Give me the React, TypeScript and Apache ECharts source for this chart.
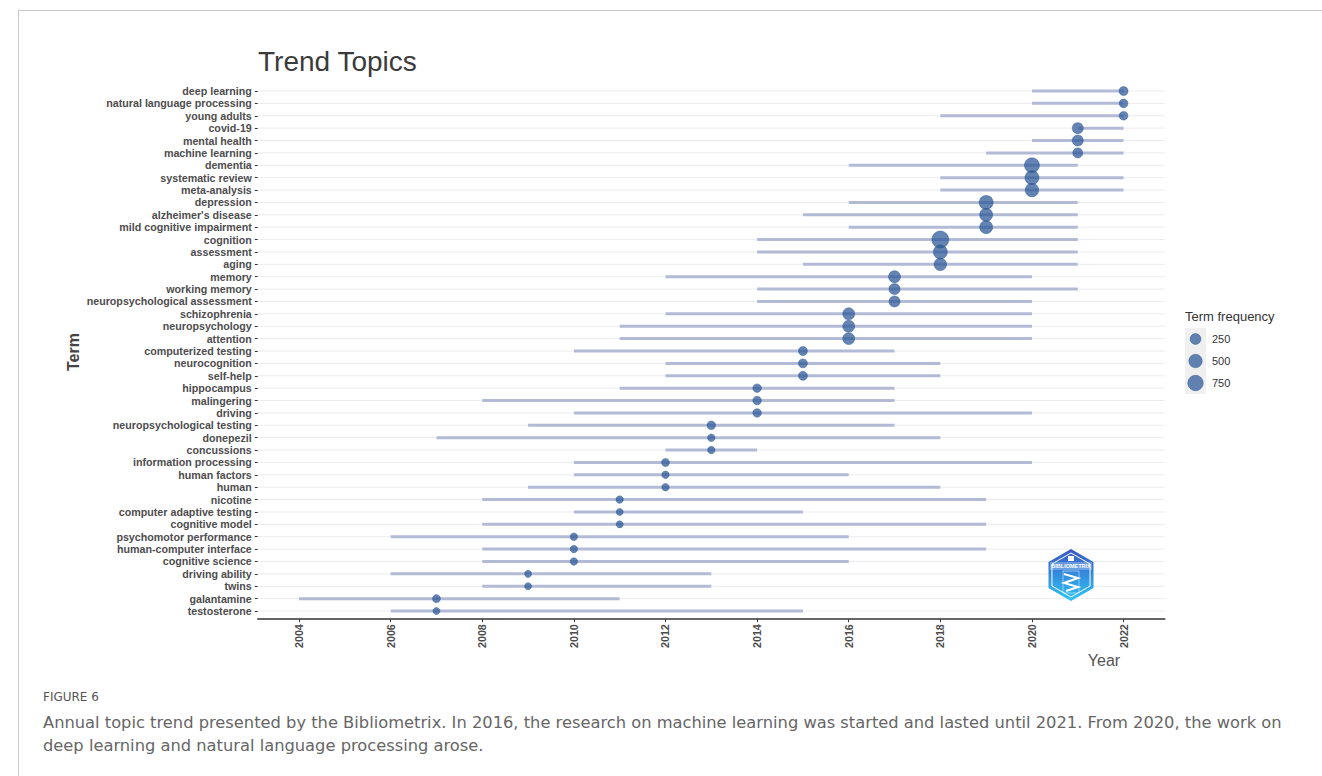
import React, { useEffect, useRef } from "react";
import * as echarts from "echarts";

const terms = [
  "deep learning", "natural language processing", "young adults", "covid-19", "mental health",
  "machine learning", "dementia", "systematic review", "meta-analysis", "depression",
  "alzheimer's disease", "mild cognitive impairment", "cognition", "assessment", "aging",
  "memory", "working memory", "neuropsychological assessment", "schizophrenia", "neuropsychology",
  "attention", "computerized testing", "neurocognition", "self-help", "hippocampus",
  "malingering", "driving", "neuropsychological testing", "donepezil", "concussions",
  "information processing", "human factors", "human", "nicotine", "computer adaptive testing",
  "cognitive model", "psychomotor performance", "human-computer interface", "cognitive science", "driving ability",
  "twins", "galantamine", "testosterone",
];
const medianYear = [
  2022, 2022, 2022, 2021, 2021, 2021, 2020, 2020, 2020, 2019,
  2019, 2019, 2018, 2018, 2018, 2017, 2017, 2017, 2016, 2016,
  2016, 2015, 2015, 2015, 2014, 2014, 2014, 2013, 2013, 2013,
  2012, 2012, 2012, 2011, 2011, 2011, 2010, 2010, 2010, 2009,
  2009, 2007, 2007,
];
const startYear = [
  2020, 2020, 2018, 2021, 2020, 2019, 2016, 2018, 2018, 2016,
  2015, 2016, 2014, 2014, 2015, 2012, 2014, 2014, 2012, 2011,
  2011, 2010, 2012, 2012, 2011, 2008, 2010, 2009, 2007, 2012,
  2010, 2010, 2009, 2008, 2010, 2008, 2006, 2008, 2008, 2006,
  2008, 2004, 2006,
];
const endYear = [
  2022, 2022, 2022, 2022, 2022, 2022, 2021, 2022, 2022, 2021,
  2021, 2021, 2021, 2021, 2021, 2020, 2021, 2020, 2020, 2020,
  2020, 2017, 2018, 2018, 2017, 2017, 2020, 2017, 2018, 2014,
  2020, 2016, 2018, 2019, 2015, 2019, 2016, 2019, 2016, 2013,
  2013, 2011, 2015,
];
const termFrequency = [
  125, 110, 110, 265, 265, 190, 690, 565, 505, 565,
  450, 450, 975, 565, 400, 350, 265, 265, 350, 350,
  350, 125, 125, 125, 100, 100, 100, 100, 55, 55,
  75, 55, 55, 55, 40, 40, 55, 55, 55, 40,
  40, 75, 40,
];
const yearTicks = [2004, 2006, 2008, 2010, 2012, 2014, 2016, 2018, 2020, 2022];
const legendValues = [250, 500, 750];
const legendLabels = ["250", "500", "750"];

const X_MIN = 2003.1;
const X_MAX = 2022.9;
const sizeOf = (f: number) => 4.5 + 0.4 * Math.sqrt(f);
const POINT_COLOR = "rgba(40,86,150,0.72)";
const POINT_BORDER = "rgba(40,80,140,0.85)";
const LABEL_FONT = "'Liberation Sans', Arial, sans-serif";
const CAPTION_FONT = "'DejaVu Sans', sans-serif";

export default function App() {
  const ref = useRef<HTMLDivElement>(null);

  useEffect(() => {
    if (!ref.current) return;
    const chart = echarts.init(ref.current, null, { renderer: "svg" });

    const hex = (cx: number, cy: number, r: number) => {
      const w = r * Math.cos(Math.PI / 6);
      return [
        [cx, cy - r], [cx + w, cy - r / 2], [cx + w, cy + r / 2],
        [cx, cy + r], [cx - w, cy + r / 2], [cx - w, cy - r / 2],
      ];
    };

    const legendGraphics: any[] = [
      {
        type: "text", x: 1185, y: 316,
        style: { text: "Term frequency", fontSize: 13, fontFamily: LABEL_FONT, fill: "#333", textAlign: "left", textVerticalAlign: "middle" },
      },
      { type: "rect", shape: { x: 1185, y: 328, width: 21, height: 66 }, style: { fill: "#f0f0f0" } },
    ];
    legendValues.forEach((v, i) => {
      const cy = 339 + i * 22;
      legendGraphics.push({
        type: "circle", shape: { cx: 1195.5, cy, r: sizeOf(v) / 2 },
        style: { fill: POINT_COLOR, stroke: POINT_BORDER, lineWidth: 0.5 }, z: 10,
      });
      legendGraphics.push({
        type: "text", x: 1212, y: cy,
        style: { text: legendLabels[i], fontSize: 11, fontFamily: LABEL_FONT, fill: "#333", textAlign: "left", textVerticalAlign: "middle" },
      });
    });

    const logo: any[] = [
      {
        type: "polygon", shape: { points: hex(1071, 575, 26) },
        style: {
          fill: new echarts.graphic.LinearGradient(0, 0, 0, 1, [
            { offset: 0, color: "#3a55c4" },
            { offset: 1, color: "#2ec6f6" },
          ]),
        },
        z: 5,
      },
      {
        type: "polygon", shape: { points: hex(1071, 575, 22) },
        style: { fill: "none", stroke: "#ffffff", lineWidth: 1 }, z: 6,
      },
      { type: "rect", shape: { x: 1050, y: 562, width: 42, height: 8 }, style: { fill: "rgba(255,255,255,0.25)" }, z: 6 },
      {
        type: "text", x: 1071, y: 566,
        style: { text: "BIBLIOMETRIX", fontSize: 5.5, fontWeight: "bold", fontFamily: LABEL_FONT, fill: "#ffffff", textAlign: "center", textVerticalAlign: "middle" },
        z: 7,
      },
      { type: "rect", shape: { x: 1068, y: 556, width: 6, height: 5 }, style: { fill: "#ffffff" }, z: 7 },
      { type: "polyline", shape: { points: [[1064, 574], [1078, 578], [1064, 583], [1078, 587], [1066, 591]] }, style: { stroke: "#ffffff", lineWidth: 2, fill: "none" }, z: 7 },
      { type: "rect", shape: { x: 1063, y: 571, width: 16, height: 22 }, style: { fill: "none", stroke: "rgba(255,255,255,0.6)", lineWidth: 0.8 }, z: 7 },
    ];

    chart.setOption({
      animation: false,
      backgroundColor: "#ffffff",
      grid: { left: 257.8, right: 157.2, top: 84.8, bottom: 158.8, outerBoundsMode: "none", containLabel: false },
      xAxis: {
        type: "value",
        min: X_MIN,
        max: X_MAX,
        offset: 2,
        axisLine: { show: true, lineStyle: { color: "#333", width: 1.6 } },
        axisTick: { show: true, length: 3, customValues: yearTicks, lineStyle: { color: "#333" } },
        axisLabel: {
          customValues: yearTicks, rotate: 90, fontSize: 10.7, fontWeight: "bold",
          fontFamily: LABEL_FONT, color: "#4d4d4d", margin: 5,
          formatter: (v: number) => String(Math.round(v)),
        },
        splitLine: { show: false },
      },
      yAxis: {
        type: "category",
        data: terms,
        inverse: true,
        axisLine: { show: false },
        axisTick: { show: true, length: 3, alignWithLabel: true, lineStyle: { color: "#333" } },
        axisLabel: { fontSize: 10.7, fontWeight: "bold", fontFamily: LABEL_FONT, color: "#4d4d4d", margin: 6, interval: 0 },
        splitLine: { show: false },
      },
      series: [
        {
          type: "custom",
          name: "rows",
          z: 1,
          silent: true,
          encode: { x: 0, y: 1 },
          data: terms.map((_, i) => [X_MIN, i]),
          renderItem: (params: any, api: any) => {
            const p = api.coord([api.value(0), api.value(1)]);
            const cs = params.coordSys;
            return {
              type: "line",
              shape: { x1: cs.x, y1: p[1], x2: cs.x + cs.width, y2: p[1] },
              style: { stroke: "#ececf0", lineWidth: 1 },
            };
          },
        },
        {
          type: "custom",
          name: "span",
          z: 2,
          encode: { x: [0, 1], y: 2 },
          data: terms.map((_, i) => [startYear[i], endYear[i], i]),
          renderItem: (_params: any, api: any) => {
            const s = api.coord([api.value(0), api.value(2)]);
            const e = api.coord([api.value(1), api.value(2)]);
            return {
              type: "line",
              shape: { x1: s[0], y1: s[1], x2: e[0], y2: e[1] },
              style: { stroke: "#b3bad6", lineWidth: 3 },
            };
          },
        },
        {
          type: "scatter",
          name: "Term frequency",
          z: 3,
          data: terms.map((_, i) => [medianYear[i], i, termFrequency[i]]),
          symbolSize: (v: number[]) => sizeOf(v[2]),
          itemStyle: { color: POINT_COLOR, borderColor: POINT_BORDER, borderWidth: 0.5, opacity: 1 },
        },
      ],
      graphic: [
        { type: "line", shape: { x1: 18, y1: 10.5, x2: 1322, y2: 10.5 }, style: { stroke: "#c8c8c8", lineWidth: 1 } },
        { type: "line", shape: { x1: 18.5, y1: 10, x2: 18.5, y2: 776 }, style: { stroke: "#c8c8c8", lineWidth: 1 } },
        {
          type: "text", x: 258, y: 61,
          style: { text: "Trend Topics", fontSize: 28, fontFamily: LABEL_FONT, fill: "#3b3b3b", textAlign: "left", textVerticalAlign: "middle" },
        },
        {
          type: "text", x: 73, y: 352, rotation: Math.PI / 2,
          style: { text: "Term", fontSize: 16, fontWeight: "bold", fontFamily: LABEL_FONT, fill: "#444", textAlign: "center", textVerticalAlign: "middle" },
        },
        {
          type: "text", x: 1104, y: 660,
          style: { text: "Year", fontSize: 16, fontFamily: LABEL_FONT, fill: "#555", textAlign: "center", textVerticalAlign: "middle" },
        },
        ...legendGraphics,
        ...logo,
        {
          type: "text", x: 43, y: 697,
          style: { text: "FIGURE 6", fontSize: 12, fontFamily: CAPTION_FONT, fill: "#555", textAlign: "left", textVerticalAlign: "middle" },
        },
        {
          type: "text", x: 43, y: 722,
          style: {
            text: "Annual topic trend presented by the Bibliometrix. In 2016, the research on machine learning was started and lasted until 2021. From 2020, the work on",
            fontSize: 16.3, fontFamily: CAPTION_FONT, fill: "#666", textAlign: "left", textVerticalAlign: "middle",
          },
        },
        {
          type: "text", x: 43, y: 745,
          style: {
            text: "deep learning and natural language processing arose.",
            fontSize: 16.3, fontFamily: CAPTION_FONT, fill: "#666", textAlign: "left", textVerticalAlign: "middle",
          },
        },
      ],
    });

    return () => chart.dispose();
  }, []);

  return (
    <div
      ref={ref}
      style={{ position: "fixed", left: 0, top: 0, width: 1322, height: 776, background: "#fff" }}
    />
  );
}
